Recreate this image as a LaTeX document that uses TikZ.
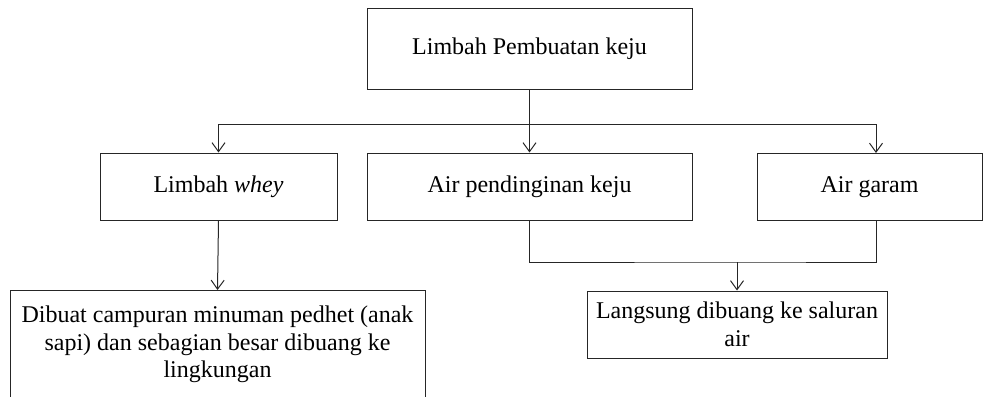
\documentclass[tikz,border=0pt]{standalone}
\usepackage{fontspec}
\setmainfont{Liberation Serif}
\usetikzlibrary{arrows.meta}

\begin{document}
\begin{tikzpicture}[
    x=0.5pt, y=-0.5pt,
    txt/.style={font=\fontsize{12pt}{13.8pt}\selectfont},
    box/.style={draw=black!85, line width=0.5pt, inner sep=0pt, txt,
                align=center, text height=8pt, text depth=2pt},
    link/.style={draw=black!85, line width=0.5pt},
    flow/.style={link, -{Straight Barb[length=4.5pt, width=6.5pt]}},
  ]
  \useasboundingbox (0,0) rectangle (983,396);
  \clip (0,0) rectangle (983,396);

  % top level
  \node[box, minimum width=162.5pt, minimum height=40.5pt] (top) at (529.5,48.5)
    {Limbah Pembuatan keju};

  % second level
  \node[box, minimum width=118.5pt, minimum height=33.5pt] (whey) at (218.5,186.5)
    {Limbah \textit{whey}};
  \node[box, minimum width=162.5pt, minimum height=33.5pt] (pend) at (529.5,186.5)
    {Air pendinginan keju};
  \node[box, minimum width=112.5pt, minimum height=33.5pt] (garam) at (869.5,186.5)
    {Air garam};

  % third level
  \node[draw=black!85, line width=0.5pt, inner sep=0pt, anchor=north,
        minimum width=207.5pt, minimum height=65pt] (dibuat) at (217.5,290) {};
  \node[txt, align=center, anchor=north, inner xsep=0pt, inner ysep=7.7pt]
    (dibuatText) at (dibuat.north)
    {Dibuat campuran minuman pedhet (anak\\sapi) dan sebagian besar dibuang ke\\lingkungan};
  \node[draw=black!85, line width=0.5pt, inner sep=0pt, txt, align=center,
        minimum width=150pt, minimum height=33.5pt] (lang) at (737,324.5)
    {Langsung dibuang ke saluran\\air};

  % branching from the top box
  \coordinate (hub) at (529.5,124);
  \coordinate (garamIn) at (876,153);
  \coordinate (garamOut) at (876,220);
  \coordinate (merge) at (737,262);

  \draw[link] (top.south) -- (hub);
  \draw[flow] (hub) -| (whey.north);
  \draw[flow] (hub) -- (pend.north);
  \draw[flow] (hub) -| (garamIn);

  % whey to its use
  \draw[flow] (whey.south) -- (dibuat.north);

  % cooling water and brine join and are discharged
  \draw[link] (pend.south) |- (merge) -| (garamOut);
  \draw[flow] (merge) -- (lang.north);
\end{tikzpicture}
\end{document}
